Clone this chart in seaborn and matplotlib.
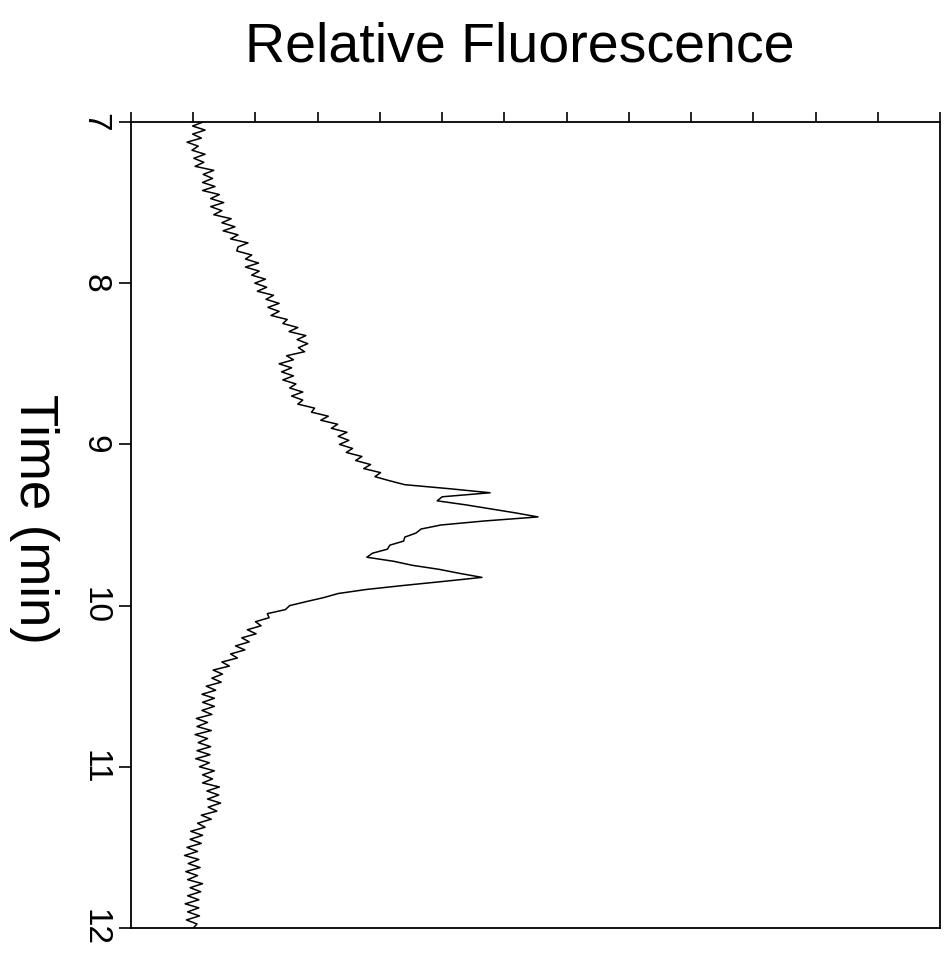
import numpy as np
import pandas as pd
import matplotlib
matplotlib.use("Agg")
import matplotlib.pyplot as plt
import seaborn as sns

# ---- data ----
t_start = 7.0       # min
t_step = 0.025      # min, sampling interval
fluorescence = [
    # 7.000 - 7.175
    1.16, 0.99, 1.19, 0.99, 1.13, 0.90, 1.08, 0.98,
    # 7.200 - 7.375
    1.19, 1.01, 1.17, 1.03, 1.33, 1.16, 1.31, 1.15,
    # 7.400 - 7.575
    1.35, 1.15, 1.42, 1.28, 1.49, 1.28, 1.46, 1.33,
    # 7.600 - 7.775
    1.61, 1.46, 1.67, 1.48, 1.72, 1.60, 1.88, 1.72,
    # 7.800 - 7.975
    1.70, 1.94, 1.84, 2.05, 1.84, 2.06, 1.94, 2.16,
    # 8.000 - 8.175
    1.99, 2.18, 2.03, 2.29, 2.17, 2.38, 2.20, 2.38,
    # 8.200 - 8.375
    2.25, 2.51, 2.44, 2.68, 2.54, 2.81, 2.67, 2.84,
    # 8.400 - 8.575
    2.69, 2.79, 2.50, 2.61, 2.38, 2.58, 2.42, 2.61,
    # 8.600 - 8.775
    2.44, 2.65, 2.55, 2.76, 2.58, 2.76, 2.68, 2.95,
    # 8.800 - 8.975
    2.90, 3.17, 3.05, 3.32, 3.22, 3.47, 3.33, 3.50,
    # 9.000 - 9.175
    3.35, 3.56, 3.46, 3.71, 3.61, 3.85, 3.74, 4.01,
    # 9.200 - 9.375
    3.92, 4.15, 4.40, 5.12, 5.77, 5.00, 4.92, 5.38,
    # 9.400 - 9.575
    5.78, 6.18, 6.54, 5.68, 4.98, 4.66, 4.58, 4.40,
    # 9.600 - 9.775
    4.38, 4.16, 4.12, 3.88, 3.79, 4.22, 4.52, 4.95,
    # 9.800 - 9.975
    5.28, 5.64, 5.02, 4.38, 3.78, 3.33, 3.10, 2.82,
    # 10.000 - 10.175
    2.55, 2.48, 2.19, 2.22, 2.00, 2.09, 1.87, 2.01,
    # 10.200 - 10.375
    1.78, 1.90, 1.68, 1.83, 1.60, 1.71, 1.46, 1.58,
    # 10.400 - 10.575
    1.32, 1.47, 1.30, 1.45, 1.21, 1.36, 1.14, 1.34,
    # 10.600 - 10.775
    1.15, 1.34, 1.14, 1.30, 1.05, 1.23, 1.06, 1.29,
    # 10.800 - 10.975
    1.03, 1.23, 1.08, 1.28, 1.06, 1.27, 1.04, 1.26,
    # 11.000 - 11.175
    1.10, 1.34, 1.15, 1.31, 1.15, 1.42, 1.22, 1.41,
    # 11.200 - 11.375
    1.23, 1.44, 1.24, 1.38, 1.13, 1.29, 1.07, 1.19,
    # 11.400 - 11.575
    0.96, 1.15, 0.95, 1.13, 0.90, 1.07, 0.86, 1.09,
    # 11.600 - 11.775
    0.92, 1.11, 0.88, 1.07, 0.91, 1.15, 0.95, 1.12,
    # 11.800 - 11.975
    0.91, 1.09, 0.87, 1.09, 0.91, 1.10, 0.89, 1.06,
    # 12.000
    1.00,
]
time_min = [round(t_start + i * t_step, 3) for i in range(len(fluorescence))]

y_ticks = [7, 8, 9, 10, 11, 12]
y_tick_labels = ["7", "8", "9", "10", "11", "12"]
x_ticks = list(range(0, 14))

title_text = "Relative Fluorescence"
ylabel_text = "Time (min)"

df = pd.DataFrame({"time": time_min, "fluor": fluorescence})

# ---- style ----
sns.set_style("ticks")
plt.rcParams["font.family"] = ["Liberation Sans", "DejaVu Sans"]
plt.rcParams["text.color"] = "black"
plt.rcParams["axes.labelcolor"] = "black"
plt.rcParams["xtick.color"] = "black"
plt.rcParams["ytick.color"] = "black"

fig = plt.figure(figsize=(9.47, 9.57), dpi=100)
ax = fig.add_axes([131 / 947, 1 - 928 / 957, 809 / 947, 806 / 957])

sns.lineplot(data=df, x="fluor", y="time", sort=False, estimator=None,
             color="black", linewidth=1.1, ax=ax)

ax.set_xlim(0, 13)
ax.set_ylim(12, 7)
ax.set_xticks(x_ticks)
ax.set_xticklabels([])
ax.set_yticks(y_ticks)
ax.set_yticklabels(y_tick_labels)
ax.set_xlabel("")

ax.xaxis.tick_top()
ax.tick_params(axis="x", which="both", top=True, bottom=False, direction="out",
               length=7, width=1.2, labeltop=False, labelbottom=False,
               color="black")
ax.tick_params(axis="y", which="both", left=True, right=False, direction="out",
               length=9, width=1.2, pad=6, labelsize=24, labelrotation=-90,
               color="black", labelcolor="black")
for lab in ax.get_yticklabels():
    lab.set_va("center")
    lab.set_ha("right")

for side in ["top", "bottom", "left", "right"]:
    ax.spines[side].set_visible(True)
    ax.spines[side].set_linewidth(1.3)
    ax.spines[side].set_color("black")

ax.set_ylabel(ylabel_text, fontsize=38, rotation=-90, va="center", ha="center",
              color="black")
ax.yaxis.set_label_coords((34 - 131) / 809, 0.507)

fig.text(520 / 947, 1 - 62 / 957, title_text, fontsize=40, ha="center",
         va="baseline", color="black")

fig.savefig("out.png", dpi=100, facecolor="white")
